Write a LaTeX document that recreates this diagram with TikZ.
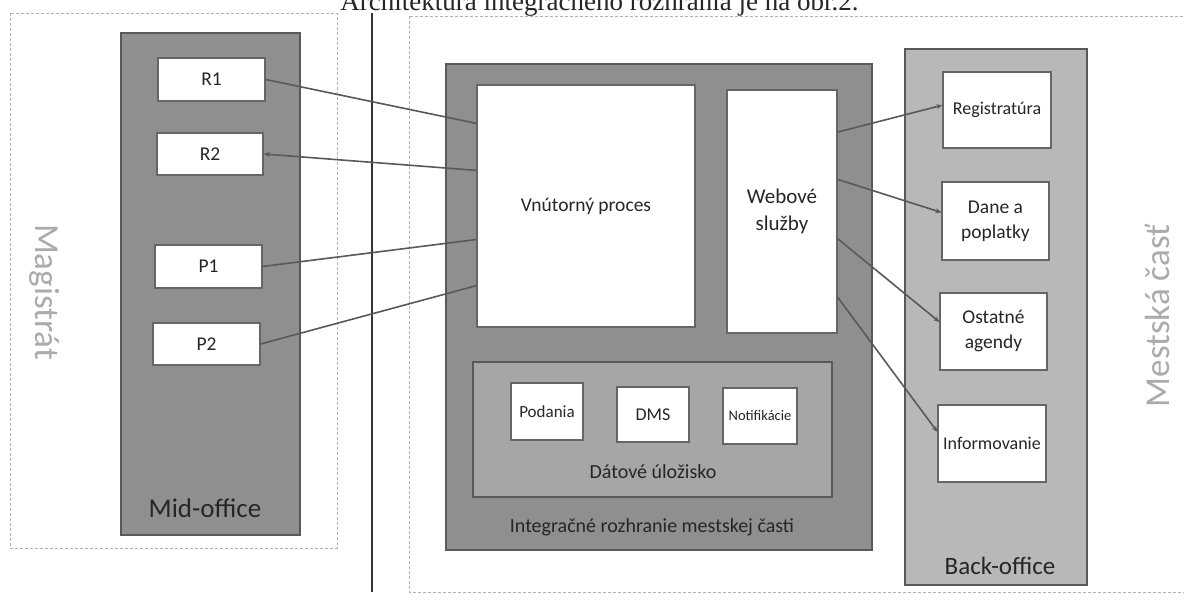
\documentclass[tikz,border=0pt]{standalone}
\usepackage{fontspec}
\setmainfont{Carlito}
\newfontfamily\serif{Liberation Serif}
\usepackage{tikz}
\usetikzlibrary{positioning,arrows.meta}
\tikzset{
    frame/.style={draw=black!30, densely dashed, line width=0.6pt}, % thin frame round a page part
    area/.style={draw=black!65, line width=1.5pt, fill=black!44, inner sep=0pt},
    box/.style={draw=black!60, fill=white, line width=1.2pt, align=center, inner sep=0pt, text=black!85, font=\fontsize{19.5}{23}\selectfont},
    link/.style={draw=black!65, line width=1.6pt},
    tip/.style={-{Stealth[length=6pt, width=5pt]}},
    side/.style={text=black!33, font=\fontsize{35}{38}\selectfont}
}

\begin{document}
\begin{tikzpicture}[x=1pt, y=-1pt]
    \useasboundingbox (0,0) rectangle (1184,601);
    \clip (0,0) rectangle (1184,601);
    \fill[white] (0,0) rectangle (1184,601);

    % line of the page above the picture
    \node (caption) [anchor=base east, text=black!85, font=\serif\fontsize{27}{29}\selectfont] at (862,11) {Architektúra integračného rozhrania je na obr.2.};

    % frames and divider
    \draw[frame] (10,13) rectangle (337,548);
    \draw[frame] (409,16) rectangle (1200,592);
    \draw[black!80, line width=1.8pt] (372,13) -- (372,592);

    % magistrat
    \node (magistrat) [side, rotate=-90] at (45,292) {Magistrát};
    \node (midoff) [area, minimum width=179, minimum height=502] at (210.5,284) {};
    \node (midlbl) [text=black!85, font=\fontsize{27}{30}\selectfont] at (205,508) {Mid-office};
    \node (r1) [box, minimum width=107, minimum height=43] at (211.5,79.5) {R1};
    \node (r2) [box, minimum width=106, minimum height=42] at (210,154) {R2};
    \node (p1) [box, minimum width=107, minimum height=43] at (208.5,266.5) {P1};
    \node (p2) [box, minimum width=107, minimum height=42] at (206.5,344) {P2};

    % integracne rozhranie
    \node (integ) [area, minimum width=426, minimum height=486] at (659,307) {};
    \node (integlbl) [text=black!85, font=\fontsize{20}{23}\selectfont] at (652,527) {Integračné rozhranie mestskej časti};
    \node (vnut) [box, minimum width=218, minimum height=242] at (586,206) {Vnútorný proces};
    \node (web) [box, minimum width=110, minimum height=243, font=\fontsize{21}{27}\selectfont] at (782,211.5) {Webové\\služby};
    \node (data) [area, fill=black!35, minimum width=359, minimum height=135] at (652.5,429.5) {};
    \node (datalbl) [text=black!85, font=\fontsize{20}{23}\selectfont] at (653,472) {Dátové úložisko};
    \node (podania) [box, minimum width=72, minimum height=57, font=\fontsize{17}{20}\selectfont] at (547,411.5) {Podania};
    \node (dms) [box, minimum width=72, minimum height=55, font=\fontsize{18}{20}\selectfont] at (653,414.5) {DMS};
    \node (notif) [box, minimum width=74, minimum height=56, font=\fontsize{14.5}{17}\selectfont] at (760,416) {Notifikácie};

    % mestska cast
    \node (backoff) [area, fill=black!28, minimum width=182, minimum height=536] at (996,317) {};
    \node (backlbl) [text=black!85, font=\fontsize{25}{28}\selectfont] at (1000,566) {Back-office};
    \node (reg) [box, minimum width=108, minimum height=76, font=\fontsize{18}{21}\selectfont] at (997,110) {Registratúra};
    \node (dane) [box, minimum width=107, minimum height=78, font=\fontsize{19.5}{25}\selectfont] at (995.5,221) {Dane a\\poplatky};
    \node (ost) [box, minimum width=107, minimum height=77, font=\fontsize{19.5}{25}\selectfont] at (993.5,331.5) {Ostatné\\agendy};
    \node (info) [box, minimum width=108, minimum height=77, font=\fontsize{18}{21}\selectfont] at (992,443.5) {Informovanie};
    \node (mestska) [side, rotate=90] at (1157,316) {Mestská časť};

    % prepojenia k magistratu
    \draw[link] (r1.east) -- (vnut.143);
    \draw[link, tip] (vnut.162) -- (r2.east);
    \draw[link] (p1.east) -- (vnut.197);
    \draw[link] (p2.east) -- (vnut.216);

    % webove sluzby -> back-office
    \draw[link, tip] (web.55) -- (reg.175);
    \draw[link, tip] (web.30) -- (dane.171);
    \draw[link, tip] (web.-26) -- (ost.170);
    \draw[link, tip] (web.-57) -- (info.168);
\end{tikzpicture}
\end{document}
